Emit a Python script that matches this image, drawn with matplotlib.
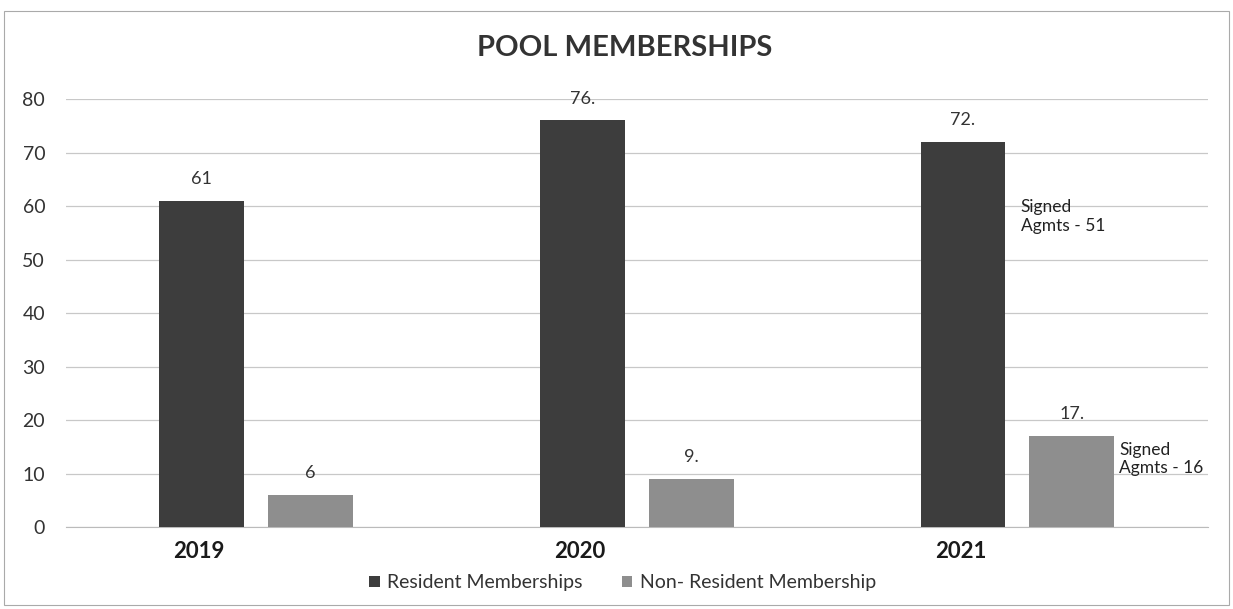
import numpy as np
from matplotlib import pyplot as plt
from matplotlib.patches import Rectangle

years = ['2019', '2020', '2021']
resident = [61, 76, 72]
non_resident = [6, 9, 17]
resident_labels = ['61', '76.', '72.']
non_resident_labels = ['6', '9.', '17.']
notes = ['Signed\nAgmts - 51', 'Signed\nAgmts - 16']
note_y = [58.0, 12.7]

plt.rcParams['font.family'] = ['Lato', 'DejaVu Sans']

fig = plt.figure(figsize=(12.33, 6.09), dpi=100)
ax = fig.add_axes([0.0535, 0.1346, 0.926, 0.7028])

x = np.arange(len(years))
width = 0.223
off = 0.143
dark = '#3d3d3d'
light = '#8e8e8e'

b1 = ax.bar(x - off, resident, width, color=dark, label='Resident Memberships', zorder=3)
b2 = ax.bar(x + off, non_resident, width, color=light, label='Non- Resident Membership', zorder=3)

for bars, labels in [(b1, resident_labels), (b2, non_resident_labels)]:
    for rect, lab in zip(bars, labels):
        ax.annotate(lab, (rect.get_x() + rect.get_width() / 2, rect.get_height()),
                    xytext=(0, 10), textcoords='offset points', ha='center', va='bottom',
                    fontsize=13, color='#333333')

# side notes next to the 2021 bars
ax.annotate(notes[0], (b1[2].get_x() + b1[2].get_width(), note_y[0]), xytext=(11, 0),
            textcoords='offset points', ha='left', va='center', fontsize=12.5,
            color='#222222')
ax.annotate(notes[1], (b2[2].get_x() + b2[2].get_width(), note_y[1]), xytext=(3.5, 0),
            textcoords='offset points', ha='left', va='center', fontsize=12.5,
            color='#222222')

ax.set_xlim(-0.5, 2.5)
ax.set_ylim(0, 80)
ax.set_yticks(range(0, 81, 10))
ax.tick_params(axis='y', length=0, labelsize=14, colors='#333333', pad=15)
ax.set_xticks(x - 0.15)
ax.set_xticklabels(years, fontsize=16, fontweight='bold', color='#1a1a1a')
ax.tick_params(axis='x', length=0, pad=10)
ax.grid(axis='y', color='#c8c8c8', linewidth=0.9, zorder=0)
for s in ['top', 'right', 'left']:
    ax.spines[s].set_visible(False)
ax.spines['bottom'].set_color('#bbbbbb')

fig.text(0.507, 0.922, 'POOL MEMBERSHIPS', ha='center', va='center',
         fontsize=21, fontweight='bold', color='#333333')

leg = fig.legend(loc='center', bbox_to_anchor=(0.505, 0.043), ncol=2, frameon=False,
                 fontsize=14, handlelength=0.55, handleheight=0.55,
                 columnspacing=2.0, handletextpad=0.4)
for t in leg.get_texts():
    t.set_color('#333333')

fig.patches.append(Rectangle((0.003, 0.006), 0.994, 0.976, transform=fig.transFigure,
                             fill=False, edgecolor='#aaaaaa', linewidth=0.8))

fig.savefig('out.png', dpi=100)
